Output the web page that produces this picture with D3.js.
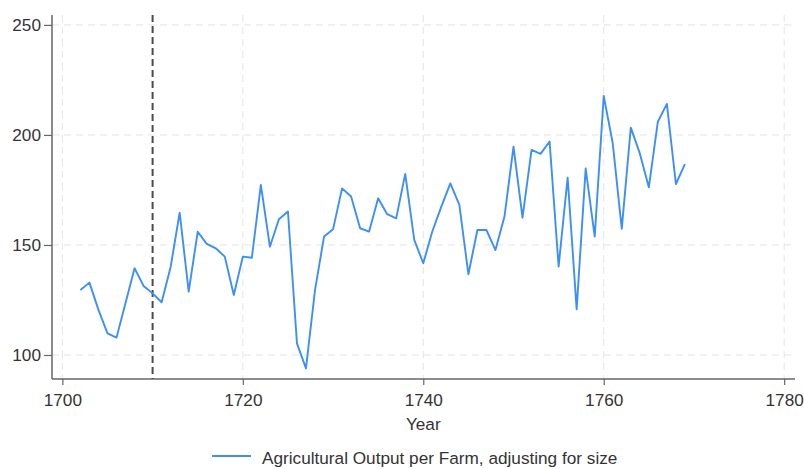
<!DOCTYPE html>
<html><head><meta charset="utf-8">
<script src="https://cdn.jsdelivr.net/npm/d3@7"></script>
<style>body{margin:0;background:#fff}svg{display:block}text{font-family:"Liberation Sans",Arial,sans-serif}</style>
</head><body><svg id="c" width="804" height="469"></svg>
<script>
const years = d3.range(1702, 1770);
const output = [129.5,132.9,120.5,109.8,107.9,123.6,139.4,131.4,128,124,140,164.7,128.8,156,150.5,148.5,144.7,127.3,144.7,144.2,177.3,149.2,161.7,165.2,105.3,93.9,129.5,153.8,157.1,175.7,172,157.6,156.1,171.2,164,162.1,182.3,152.3,141.7,156.1,167.4,178,168.2,136.7,156.8,156.8,147.7,162.9,194.7,162.4,193.2,191.4,197,140.2,180.6,120.8,184.8,153.8,217.7,196.2,157.3,203.3,191.6,176.2,206,214.1,177.7,186.7];
const xTicks = [1700,1720,1740,1760,1780];
const yTicks = [100,150,200,250];
const markerYear = 1710;
const seriesLabel = "Agricultural Output per Farm, adjusting for size";

const svg = d3.select("#c");
const L = 52, R = 795, T = 15, B = 379;
const FS = "17.2px";
const x = d3.scaleLinear().domain([1698.85, 1781.2]).range([L, R]);
const y = d3.scaleLinear().domain([89.1, 254.5]).range([B, T]);

const grid = svg.append("g").attr("stroke","#e4e4e4").attr("stroke-width",1).attr("stroke-dasharray","7,5");
grid.selectAll("line.h").data(yTicks).join("line").attr("class","h")
  .attr("x1",L).attr("x2",R).attr("y1",d=>y(d)).attr("y2",d=>y(d));
grid.selectAll("line.v").data(xTicks).join("line").attr("class","v")
  .attr("x1",d=>x(d)).attr("x2",d=>x(d)).attr("y1",T).attr("y2",B);

const xAxis = svg.append("g").attr("transform",`translate(0,${B})`)
  .call(d3.axisBottom(x).tickValues(xTicks).tickFormat(d3.format("d")).tickSize(6).tickPadding(9));
const yAxis = svg.append("g").attr("transform",`translate(${L},0)`)
  .call(d3.axisLeft(y).tickValues(yTicks).tickSize(8).tickPadding(3));
[xAxis,yAxis].forEach(a=>{
  a.select(".domain").attr("stroke","#666").attr("stroke-width",1.5);
  a.selectAll(".tick line").attr("stroke","#666").attr("stroke-width",1.2);
  a.selectAll(".tick text").attr("fill","#333").style("font-size",FS);
});
xAxis.select(".domain").attr("d",`M${L},0H${R}`);
yAxis.select(".domain").attr("d",`M0,${T}V${B}`);

svg.append("line").attr("x1",x(markerYear)).attr("x2",x(markerYear)).attr("y1",T).attr("y2",B)
  .attr("stroke","#4a4a4a").attr("stroke-width",2).attr("stroke-dasharray","7,4");

svg.append("path").datum(years.map((yr,i)=>[yr,output[i]]))
  .attr("fill","none").attr("stroke","#3d8ff8").attr("stroke-width",1.9).attr("stroke-linejoin","round")
  .attr("d",d3.line().x(d=>x(d[0])).y(d=>y(d[1])));

svg.append("text").attr("x",x(1740)).attr("y",429.5).attr("text-anchor","middle")
  .attr("fill","#333").style("font-size",FS).text("Year");

svg.append("line").attr("x1",212).attr("x2",251).attr("y1",456).attr("y2",456)
  .attr("stroke","#3d8ff8").attr("stroke-width",1.9);
svg.append("text").attr("x",262).attr("y",464).attr("fill","#333").style("font-size",FS).text(seriesLabel);
</script></body></html>
